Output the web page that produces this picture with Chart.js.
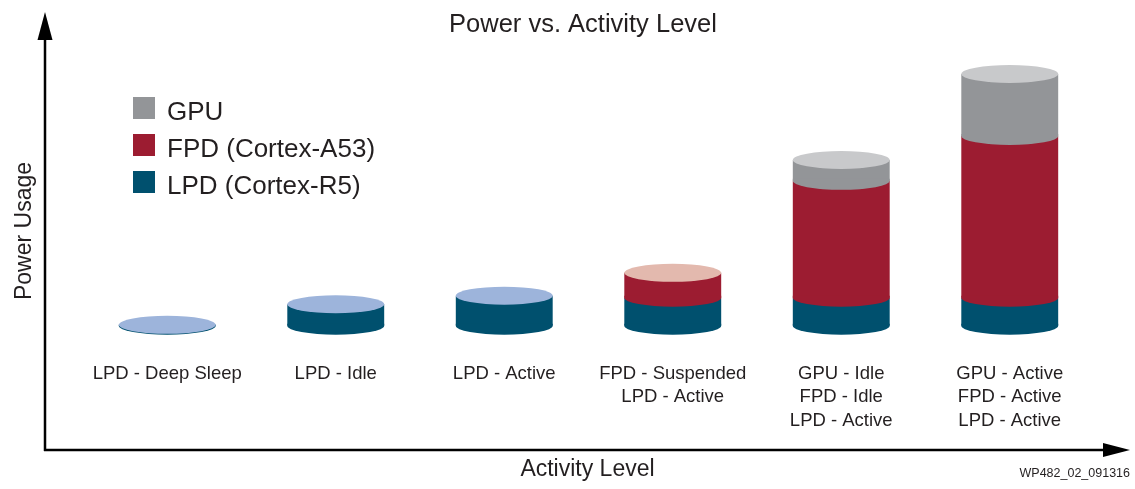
<!DOCTYPE html>
<html>
<head>
<meta charset="utf-8">
<script src="https://cdn.jsdelivr.net/npm/chart.js@4/dist/chart.umd.min.js"></script>
<style>
  body { margin: 0; background: #fff; }
  #wrap { width: 1135px; height: 489px; position: relative; }
</style>
</head>
<body>
<div id="wrap"><canvas id="myChart"></canvas></div>
<script>
// categories along the activity axis
const categories = [
  ['LPD - Deep Sleep'],
  ['LPD - Idle'],
  ['LPD - Active'],
  ['FPD - Suspended', 'LPD - Active'],
  ['GPU - Idle', 'FPD - Idle', 'LPD - Active'],
  ['GPU - Active', 'FPD - Active', 'LPD - Active']
];

// relative power usage per domain (no scale in the original)
const lpdPower = [0.3, 7.5, 10.5, 9.8, 9.8, 9.8];
const fpdPower = [0, 0, 0, 8.7, 40.9, 56.6];
const gpuPower = [0, 0, 0, 0, 7.3, 21.7];

const FONT = '"Liberation Sans", Arial, Helvetica, sans-serif';
const TEXT = '#231f20';
const RY = 9;

// draws the cylinder ends on top of the plain bars
const cylinders = {
  id: 'cylinders',
  afterDatasetsDraw(chart) {
    const ctx = chart.ctx;
    ctx.save();
    chart.data.labels.forEach((lbl, i) => {
      let top = null;
      chart.data.datasets.forEach((ds, d) => {
        if (!ds.data[i]) return;
        const bar = chart.getDatasetMeta(d).data[i];
        const p = bar.getProps(['x', 'y', 'base', 'width'], true);
        const rx = p.width / 2;
        // front half of the bottom rim, a bit of overlap to hide the seam
        ctx.fillStyle = ds.backgroundColor;
        ctx.beginPath();
        ctx.ellipse(p.x, p.base, rx, RY, 0, 0, Math.PI);
        ctx.lineTo(p.x - rx, Math.max(p.y, p.base - 2));
        ctx.lineTo(p.x + rx, Math.max(p.y, p.base - 2));
        ctx.closePath();
        ctx.fill();
        top = { x: p.x, y: p.y, w: p.width, color: ds.topColor };
      });
      if (top) {
        ctx.fillStyle = top.color;
        ctx.beginPath();
        ctx.ellipse(top.x, top.y, top.w / 2, RY, 0, 0, Math.PI * 2);
        ctx.fill();
      }
    });
    ctx.restore();
  }
};

// axes arrows, titles, legend and figure id
const decor = {
  id: 'decor',
  afterDraw(chart) {
    const ctx = chart.ctx;
    ctx.save();
    ctx.strokeStyle = '#000';
    ctx.fillStyle = '#000';
    ctx.lineWidth = 2.5;
    ctx.beginPath();
    ctx.moveTo(45, 38);
    ctx.lineTo(45, 451);
    ctx.moveTo(44, 450);
    ctx.lineTo(1105, 450);
    ctx.stroke();
    ctx.beginPath();
    ctx.moveTo(45, 12);
    ctx.lineTo(37.5, 40);
    ctx.lineTo(52.5, 40);
    ctx.closePath();
    ctx.fill();
    ctx.beginPath();
    ctx.moveTo(1130, 450);
    ctx.lineTo(1103, 443);
    ctx.lineTo(1103, 457);
    ctx.closePath();
    ctx.fill();

    ctx.fillStyle = TEXT;
    ctx.textBaseline = 'alphabetic';
    ctx.textAlign = 'center';
    ctx.font = '25.5px ' + FONT;
    ctx.fillText('Power vs. Activity Level', 583, 31.5);

    ctx.font = '23px ' + FONT;
    ctx.fillText('Activity Level', 587.5, 476);

    ctx.save();
    ctx.translate(31, 231);
    ctx.rotate(-Math.PI / 2);
    ctx.fillText('Power Usage', 0, 0);
    ctx.restore();

    ctx.textAlign = 'right';
    ctx.font = '12.5px ' + FONT;
    ctx.fillText('WP482_02_091316', 1130, 476.5);

    // legend, top series first
    ctx.textAlign = 'left';
    ctx.font = '26px ' + FONT;
    const sets = chart.data.datasets.slice().reverse();
    sets.forEach((ds, i) => {
      ctx.fillStyle = ds.backgroundColor;
      ctx.fillRect(133, 97 + 37 * i, 22, 22);
      ctx.fillStyle = TEXT;
      ctx.fillText(ds.label, 167, 120 + 36.8 * i);
    });
    ctx.restore();
  }
};

const ctx = document.getElementById('myChart');

new Chart(ctx, {
  type: 'bar',
  data: {
    labels: categories,
    datasets: [
      { label: 'LPD (Cortex-R5)', data: lpdPower, backgroundColor: '#00506e', topColor: '#9db4db' },
      { label: 'FPD (Cortex-A53)', data: fpdPower, backgroundColor: '#9c1c31', topColor: '#e3b9ae' },
      { label: 'GPU', data: gpuPower, backgroundColor: '#939598', topColor: '#c8c9cb' }
    ]
  },
  options: {
    responsive: true,
    maintainAspectRatio: false,
    animation: false,
    layout: { padding: { left: 83, right: 41, top: 40, bottom: 20.8 } },
    datasets: {
      bar: { barPercentage: 0.575, categoryPercentage: 1, borderWidth: 0 }
    },
    plugins: {
      legend: { display: false },
      title: { display: false },
      tooltip: { enabled: false }
    },
    scales: {
      x: {
        stacked: true,
        grid: { display: false, drawTicks: false },
        border: { display: false },
        ticks: {
          color: TEXT,
          padding: 36,
          maxRotation: 0,
          autoSkip: false,
          font: { family: FONT, size: 18.5, lineHeight: 1.27 }
        }
      },
      y: {
        stacked: true,
        display: false,
        min: 0,
        max: 100
      }
    }
  },
  plugins: [cylinders, decor]
});
</script>
</body>
</html>
